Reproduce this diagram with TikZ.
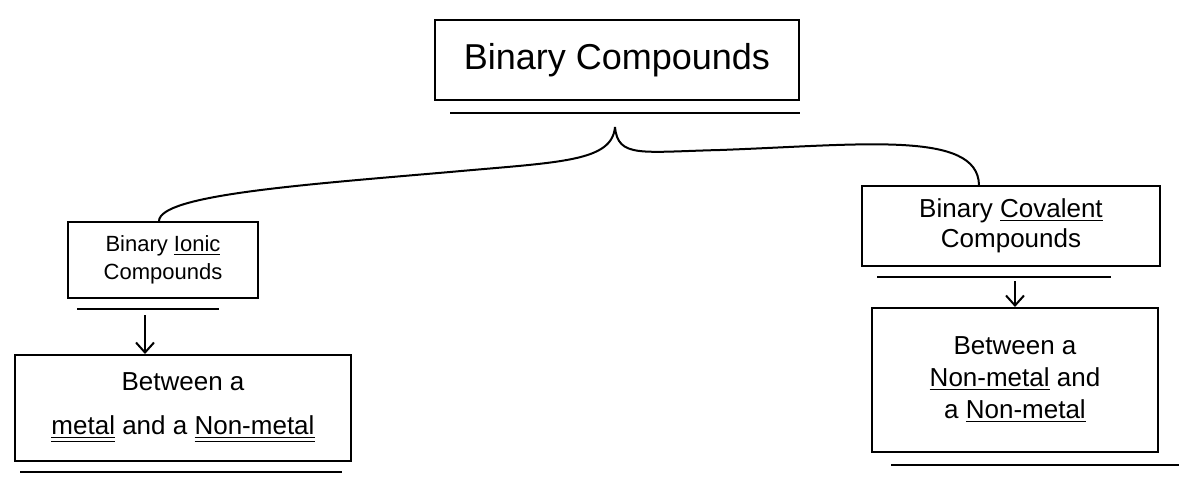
\documentclass[tikz,border=0pt]{standalone}
\usepackage{fontspec}
\setmainfont{Liberation Sans}
\usetikzlibrary{arrows.meta}

\begin{document}
\begin{tikzpicture}[x=0.5pt, y=-0.5pt]

	\tikzstyle{caja}=[draw, line width=1pt, inner sep=2pt, align=center]
	\tikzstyle{liga}=[line width=1pt]
	\tikzstyle{flecha}=[line width=1pt, -{Straight Barb[length=5pt, width=9pt]}]
	\tikzstyle{subr}=[line width=1pt]

	\useasboundingbox (0, 0) rectangle (1196, 482);

	\coordinate (c_0) at (617, 60); % NIVEL 0
	\coordinate (c_1_1) at (163, 260); % NIVEL 1
	\coordinate (c_1_2) at (1011, 226); % NIVEL 1
	\coordinate (c_2_1) at (183, 408); % NIVEL 2
	\coordinate (c_2_2) at (1015, 380); % NIVEL 2
	\coordinate (tip) at (615, 127); % PUNTA LLAVE

	\node[caja, minimum width=182pt, minimum height=40pt, font=\fontsize{18}{20}\selectfont] (c_0) at (c_0) {Binary Compounds}; % NIVEL 0
	\node[caja, minimum width=95pt, minimum height=38pt, font=\fontsize{11}{14}\selectfont] (c_1_1) at (c_1_1) {Binary \underline{Ionic}\\Compounds}; % NIVEL 1
	\node[caja, minimum width=149pt, minimum height=40pt, font=\fontsize{13}{15}\selectfont] (c_1_2) at (c_1_2) {Binary \underline{Covalent}\\Compounds}; % NIVEL 1
	\node[caja, minimum width=168pt, minimum height=53pt, font=\fontsize{13}{22}\selectfont] (c_2_1) at (c_2_1) {Between a\\\underline{\underline{metal}} and a \underline{\underline{Non-metal}}}; % NIVEL 2
	\node[caja, minimum width=143pt, minimum height=72pt, font=\fontsize{13}{16}\selectfont] (c_2_2) at (c_2_2) {Between a\\\underline{Non-metal} and\\a \underline{Non-metal}}; % NIVEL 2

	% subrayado bajo las cajas
	\draw[subr] ([xshift=8pt, yshift=-6pt]c_0.south west) -- ([yshift=-6pt]c_0.south east);
	\draw[subr] ([xshift=5pt, yshift=-5pt]c_1_1.south west) -- ([xshift=-20pt, yshift=-5pt]c_1_1.south east);
	\draw[subr] ([xshift=8pt, yshift=-5pt]c_1_2.south west) -- ([xshift=-25pt, yshift=-5pt]c_1_2.south east);
	\draw[subr] ([xshift=3pt, yshift=-5pt]c_2_1.south west) -- ([xshift=-5pt, yshift=-5pt]c_2_1.south east);
	\draw[subr] ([xshift=10pt, yshift=-6pt]c_2_2.south west) -- ([xshift=10pt, yshift=-6pt]c_2_2.south east);

	% llave
	\draw[liga] ([xshift=-2pt]c_1_1.north) .. controls (160, 195) and (300, 185) .. (450, 172) .. controls (560, 162) and (612, 162) .. (tip);
	\draw[liga] (tip) .. controls (618, 158) and (640, 152) .. (720, 150) .. controls (860, 145) and (978, 130) .. ([xshift=-16pt]c_1_2.north);

	\draw[flecha] ([xshift=-9pt, yshift=-8pt]c_1_1.south) -- ([xshift=-19pt]c_2_1.north);
	\draw[flecha] ([xshift=2pt, yshift=-7pt]c_1_2.south) -- (c_2_2.north);
\end{tikzpicture}
\end{document}
